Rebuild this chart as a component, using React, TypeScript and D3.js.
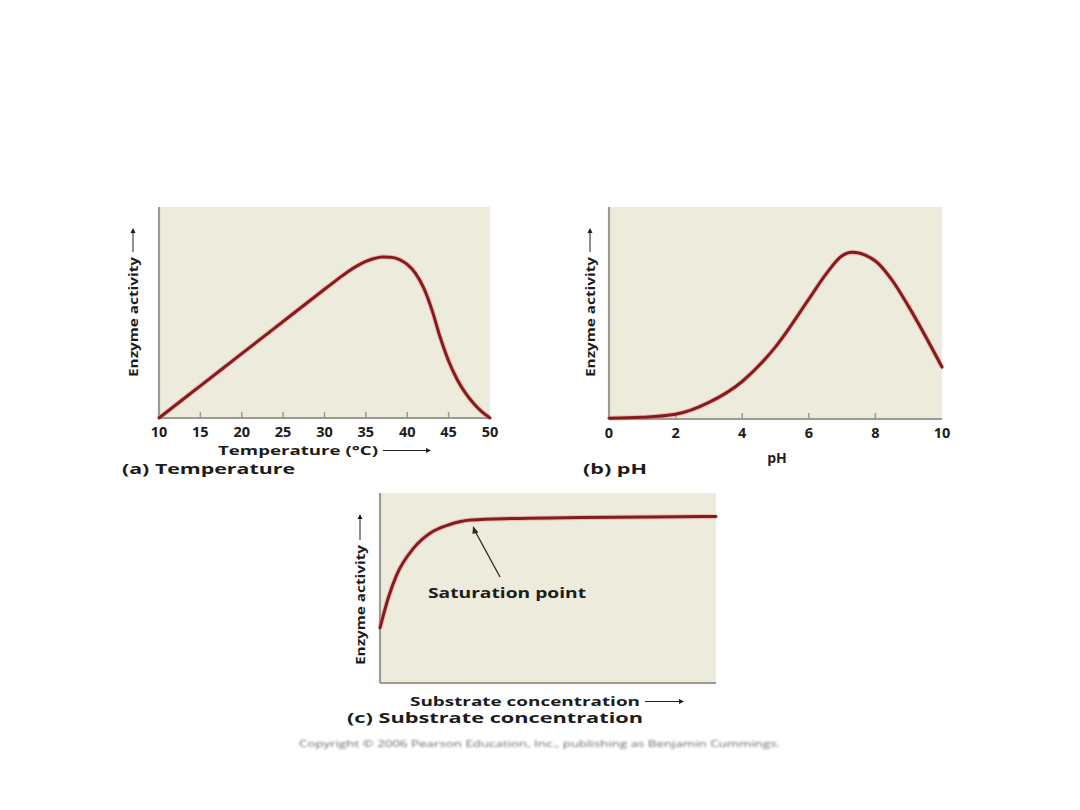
import React from "react";
import * as d3 from "d3";

// ---- Data ----
const tempX = [10, 15, 20, 25, 30, 31, 32, 33, 34, 35, 36, 37, 38, 39, 40, 41, 42, 43, 44, 45, 46, 47, 48, 49, 50];
const tempY = [0, 0.1525, 0.305, 0.4575, 0.61, 0.64, 0.67, 0.698, 0.722, 0.742, 0.756, 0.763, 0.762, 0.752, 0.728, 0.685, 0.615, 0.51, 0.38, 0.27, 0.185, 0.12, 0.07, 0.03, 0];
const tempTicks = [10, 15, 20, 25, 30, 35, 40, 45, 50];

const phX = [0, 1, 2, 3, 4, 5, 6, 6.5, 7, 7.3, 8, 8.5, 9, 10];
const phY = [0.004, 0.008, 0.022, 0.078, 0.177, 0.34, 0.565, 0.68, 0.77, 0.786, 0.745, 0.655, 0.53, 0.245];
const phTicks = [0, 2, 4, 6, 8, 10];

const subX = [0, 0.25, 0.5, 1.0, 1.5, 2.0, 2.7, 4, 6, 8, 10];
const subY = [0.29, 0.45, 0.57, 0.71, 0.79, 0.83, 0.858, 0.866, 0.871, 0.874, 0.876];

const BG = "#ECEBDC";
const AXIS = "#9a9a96";
const CURVE = "#861a1c";
const TEXT = "#1c1c1c";
const FONT = "'Open Sans', 'DejaVu Sans', sans-serif";

type PanelProps = {
  x0: number; x1: number; y0: number; y1: number;
  xd: [number, number];
  xs: number[]; ys: number[];
  ticks?: number[];
  curve: d3.CurveFactory;
};

function Panel({ x0, x1, y0, y1, xd, xs, ys, ticks, curve }: PanelProps) {
  const x = d3.scaleLinear().domain(xd).range([x0, x1]);
  const y = d3.scaleLinear().domain([0, 1]).range([y1, y0]);
  const line = d3.line<number>().x((_, i) => x(xs[i])).y((d) => y(d)).curve(curve);
  const path = line(ys) || "";
  return (
    <g>
      <rect x={x0} y={y0} width={x1 - x0} height={y1 - y0} fill={BG} />
      <line x1={x0} x2={x0} y1={y0} y2={y1} stroke={AXIS} strokeWidth={2.2} />
      <line x1={x0} x2={x1} y1={y1} y2={y1} stroke={AXIS} strokeWidth={2} />
      {ticks && ticks.slice(1, -1).map((t) => (
        <line key={t} x1={x(t)} x2={x(t)} y1={y1} y2={y1 - 6} stroke={AXIS} strokeWidth={1.5} />
      ))}
      {ticks && ticks.map((t) => (
        <text key={"l" + t} x={x(t)} y={y1 + 19} textAnchor="middle" fontSize={14.5} fontWeight={700}
          fill={TEXT} fontFamily={FONT}>{t}</text>
      ))}
      <path d={path} fill="none" stroke="#e58a86" strokeWidth={5} strokeOpacity={0.45} />
      <path d={path} fill="none" stroke={CURVE} strokeWidth={3} strokeLinecap="round" />
    </g>
  );
}

function YLabel({ cx, yBottom, textLen, arrowTop }: { cx: number; yBottom: number; textLen: number; arrowTop: number }) {
  const textTop = yBottom - textLen;
  return (
    <g>
      <text transform={`translate(${cx + 4.5},${yBottom}) rotate(-90)`} fontSize={13} fontWeight={700}
        fill={TEXT} fontFamily={FONT} textLength={textLen} lengthAdjust="spacingAndGlyphs">Enzyme activity</text>
      <line x1={cx} x2={cx} y1={textTop - 5} y2={arrowTop + 4} stroke={TEXT} strokeWidth={1} />
      <path d={`M${cx - 2.5},${arrowTop + 5} L${cx},${arrowTop} L${cx + 2.5},${arrowTop + 5} Z`} fill={TEXT} />
    </g>
  );
}

function XLabelArrow({ x0, textLen, y, label, arrowEnd, size = 13 }: { x0: number; textLen: number; y: number; label: string; arrowEnd: number; size?: number }) {
  const ay = y - 4.5;
  return (
    <g>
      <text x={x0} y={y} fontSize={size} fontWeight={700} fill={TEXT} fontFamily={FONT}
        textLength={textLen} lengthAdjust="spacingAndGlyphs">{label}</text>
      <line x1={x0 + textLen + 5} x2={arrowEnd - 4} y1={ay} y2={ay} stroke={TEXT} strokeWidth={1} />
      <path d={`M${arrowEnd - 5},${ay - 2.5} L${arrowEnd},${ay} L${arrowEnd - 5},${ay + 2.5} Z`} fill={TEXT} />
    </g>
  );
}

function Caption({ x0, y, textLen, letter, title }: { x0: number; y: number; textLen: number; letter: string; title: string }) {
  return (
    <text x={x0} y={y} fontSize={14} fontWeight={700} fill={TEXT} fontFamily={FONT}
      textLength={textLen} lengthAdjust="spacingAndGlyphs">{`(${letter})  ${title}`}</text>
  );
}

export default function App() {
  return (
    <svg width={1080} height={810} style={{ position: "absolute", left: 0, top: 0, background: "#fff" }}>
      <defs>
        <filter id="soft" x="-5%" y="-50%" width="110%" height="200%">
          <feGaussianBlur stdDeviation="0.8" />
        </filter>
      </defs>
      <rect width={1080} height={810} fill="#fff" />

      {/* (a) Temperature */}
      <Panel x0={159} x1={490} y0={207} y1={418} xd={[10, 50]} xs={tempX} ys={tempY}
        ticks={tempTicks} curve={d3.curveMonotoneX} />
      <YLabel cx={133} yBottom={377} textLen={120} arrowTop={228} />
      <XLabelArrow x0={218} textLen={160} y={455} label="Temperature (°C)" arrowEnd={431} />
      <Caption x0={122} y={474} textLen={173} letter="a" title="Temperature" />

      {/* (b) pH */}
      <Panel x0={609} x1={942} y0={207} y1={419} xd={[0, 10]} xs={phX} ys={phY}
        ticks={phTicks} curve={d3.curveMonotoneX} />
      <YLabel cx={590} yBottom={377} textLen={120} arrowTop={228} />
      <text x={777} y={463} textAnchor="middle" fontSize={14} fontWeight={700} fill={TEXT} fontFamily={FONT}>pH</text>
      <Caption x0={583} y={474} textLen={64} letter="b" title="pH" />

      {/* (c) Substrate concentration */}
      <Panel x0={380} x1={716} y0={493} y1={683} xd={[0, 10]} xs={subX} ys={subY}
        curve={d3.curveMonotoneX} />
      <YLabel cx={360} yBottom={665} textLen={120} arrowTop={514} />
      <line x1={500} y1={577} x2={475} y2={531} stroke="#2a2a2a" strokeWidth={1.3} />
      <path d="M473,526 L478.5,532.5 L472.5,534 Z" fill="#2a2a2a" />
      <text x={428} y={598} fontSize={14} fontWeight={700} fill={TEXT} fontFamily={FONT}
        textLength={158} lengthAdjust="spacingAndGlyphs">Saturation point</text>
      <XLabelArrow x0={410} textLen={230} y={706} label="Substrate concentration" arrowEnd={684} />
      <Caption x0={347} y={723} textLen={296} letter="c" title="Substrate concentration" />

      <text x={299} y={747} fontSize={8.5} fill="#6a6a6a" fontFamily={FONT} filter="url(#soft)"
        textLength={481} lengthAdjust="spacingAndGlyphs">Copyright © 2006 Pearson Education, Inc., publishing as Benjamin Cummings.</text>
    </svg>
  );
}
